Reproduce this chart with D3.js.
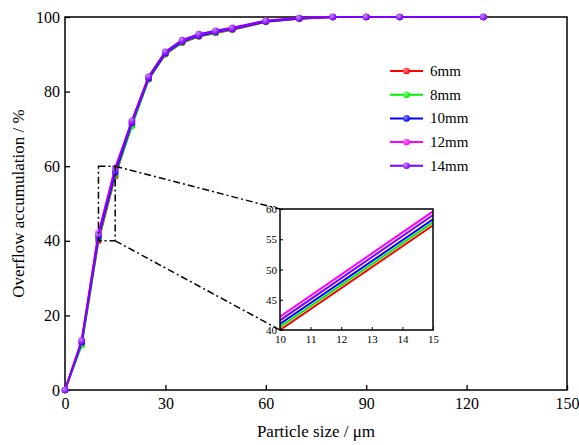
<!DOCTYPE html>
<html lang="en">
<head>
<meta charset="utf-8">
<title>Overflow accumulation</title>
<script src="https://cdnjs.cloudflare.com/ajax/libs/d3/7.0.0/d3.min.js"></script>
<style>
  body { margin: 0; background: #fff; }
  text { font-family: "Liberation Serif", "Times New Roman", serif; fill: #000; }
</style>
</head>
<body>
<script>
// particle sizes (um) and overflow accumulation (%) per series
const sizes = [0, 5, 10, 15, 20, 25, 30, 35, 40, 45, 50, 60, 70, 80, 90, 100, 125];
const s6mm  = [0, 12.5, 40.0, 57.3, 71.2, 83.3, 90.0, 93.1, 94.8, 95.7, 96.6, 98.7, 99.5, 100, 100, 100, 100];
const s8mm  = [0, 12.0, 40.5, 57.8, 70.8, 83.4, 90.1, 93.2, 94.9, 95.8, 96.7, 98.8, 99.5, 100, 100, 100, 100];
const s10mm = [0, 12.8, 41.0, 58.3, 71.6, 83.6, 90.3, 93.4, 95.0, 96.0, 96.8, 98.8, 99.6, 100, 100, 100, 100];
const s12mm = [0, 13.3, 42.2, 59.6, 72.0, 84.0, 90.6, 93.7, 95.3, 96.2, 97.0, 99.0, 99.7, 100, 100, 100, 100];
const s14mm = [0, 13.2, 41.6, 59.0, 72.2, 84.0, 90.7, 93.8, 95.4, 96.3, 97.1, 99.0, 99.7, 100, 100, 100, 100];

const seriesNames = ["6mm", "8mm", "10mm", "12mm", "14mm"];
const seriesVals = [s6mm, s8mm, s10mm, s12mm, s14mm];
const colors = ["#ff0000", "#00ee00", "#0000ff", "#ff00ff", "#8000ff"];

const xTicks = [0, 30, 60, 90, 120, 150];
const yTicks = [0, 20, 40, 60, 80, 100];
const insetXTicks = [10, 11, 12, 13, 14, 15];
const insetYTicks = [40, 45, 50, 55, 60];

var w = 579, h = 445;
var mLeft = 65, mTop = 17, mRight = 567, mBottom = 390;

var svg = d3.select("body").append("svg")
  .attr("width", w).attr("height", h);

var x = d3.scaleLinear().domain([0, 150]).range([mLeft, mRight]);
var y = d3.scaleLinear().domain([0, 100]).range([mBottom, mTop]);

// gradients for the ball markers
var defs = svg.append("defs");
colors.forEach(function(c, i) {
  var g = defs.append("radialGradient").attr("id", "ball" + i)
    .attr("cx", "35%").attr("cy", "35%").attr("r", "65%");
  g.append("stop").attr("offset", "0%").attr("stop-color", d3.interpolateRgb(c, "#fff")(0.55));
  g.append("stop").attr("offset", "100%").attr("stop-color", c);
});

// axes (ticks pointing inward)
svg.append("g").attr("transform", "translate(0," + mBottom + ")")
  .call(d3.axisBottom(x).tickValues(xTicks).tickSizeInner(-5).tickSizeOuter(0).tickPadding(8))
  .call(function(g) {
    g.select(".domain").remove();
    g.selectAll("line").attr("stroke-width", 1.3);
    g.selectAll("text").style("font-size", "16px").style("font-family", "Liberation Serif");
  });
svg.append("g").attr("transform", "translate(" + mLeft + ",0)")
  .call(d3.axisLeft(y).tickValues(yTicks).tickSizeInner(-5).tickSizeOuter(0).tickPadding(5))
  .call(function(g) {
    g.select(".domain").remove();
    g.selectAll("line").attr("stroke-width", 1.3);
    g.selectAll("text").style("font-size", "16px").style("font-family", "Liberation Serif");
  });
svg.append("rect").attr("x", mLeft).attr("y", mTop)
  .attr("width", mRight - mLeft).attr("height", mBottom - mTop)
  .attr("fill", "none").attr("stroke", "#000").attr("stroke-width", 1.5);

svg.append("text").attr("x", (mLeft + mRight) / 2).attr("y", 437)
  .attr("text-anchor", "middle").style("font-size", "17px").text("Particle size / \u03bcm");
svg.append("text").attr("transform", "translate(24," + (mTop + mBottom) / 2 + ") rotate(-90)")
  .attr("text-anchor", "middle").style("font-size", "17px").text("Overflow accumulation / %");

// series lines and markers
var line = d3.line().x(function(d) { return x(d[0]); }).y(function(d) { return y(d[1]); });
seriesVals.forEach(function(vals, i) {
  var pts = sizes.map(function(s, j) { return [s, vals[j]]; });
  svg.append("path").datum(pts).attr("d", line)
    .attr("fill", "none").attr("stroke", colors[i]).attr("stroke-width", 2);
  svg.append("g").selectAll("circle").data(pts).enter().append("circle")
    .attr("cx", function(d) { return x(d[0]); })
    .attr("cy", function(d) { return y(d[1]); })
    .attr("r", 3.3).attr("fill", "url(#ball" + i + ")");
});

// zoom box and connector lines
var dashDot = "7,3,2,3";
svg.append("rect").attr("x", x(10)).attr("y", y(60))
  .attr("width", x(15) - x(10)).attr("height", y(40) - y(60))
  .attr("fill", "none").attr("stroke", "#000").attr("stroke-width", 1.5)
  .attr("stroke-dasharray", dashDot);

// inset
var ix = d3.scaleLinear().domain([10, 15]).range([280, 433]);
var iy = d3.scaleLinear().domain([40, 60]).range([330, 209]);

svg.append("line").attr("x1", x(15)).attr("y1", y(60)).attr("x2", ix(10)).attr("y2", iy(60))
  .attr("stroke", "#000").attr("stroke-width", 1.5).attr("stroke-dasharray", dashDot);
svg.append("line").attr("x1", x(15)).attr("y1", y(40)).attr("x2", ix(10)).attr("y2", iy(40))
  .attr("stroke", "#000").attr("stroke-width", 1.5).attr("stroke-dasharray", dashDot);

var inset = svg.append("g");
inset.append("rect").attr("x", 280).attr("y", 209).attr("width", 153).attr("height", 121)
  .attr("fill", "#fff");
inset.append("clipPath").attr("id", "iclip").append("rect")
  .attr("x", 280).attr("y", 209).attr("width", 153).attr("height", 121);
var iline = d3.line().x(function(d) { return ix(d[0]); }).y(function(d) { return iy(d[1]); });
var lg = inset.append("g").attr("clip-path", "url(#iclip)");
seriesVals.forEach(function(vals, i) {
  var pts = sizes.map(function(s, j) { return [s, vals[j]]; });
  lg.append("path").datum(pts).attr("d", iline)
    .attr("fill", "none").attr("stroke", colors[i]).attr("stroke-width", 2);
});
inset.append("g").attr("transform", "translate(0,330)")
  .call(d3.axisBottom(ix).tickValues(insetXTicks).tickFormat(d3.format("d"))
    .tickSizeInner(-3).tickSizeOuter(0).tickPadding(5))
  .call(function(g) {
    g.select(".domain").remove();
    g.selectAll("text").style("font-size", "11px").style("font-family", "Liberation Serif");
  });
inset.append("g").attr("transform", "translate(280,0)")
  .call(d3.axisLeft(iy).tickValues(insetYTicks).tickFormat(d3.format("d"))
    .tickSizeInner(-3).tickSizeOuter(0).tickPadding(3))
  .call(function(g) {
    g.select(".domain").remove();
    g.selectAll("text").style("font-size", "11px").style("font-family", "Liberation Serif");
  });
inset.append("rect").attr("x", 280).attr("y", 209).attr("width", 153).attr("height", 121)
  .attr("fill", "none").attr("stroke", "#000").attr("stroke-width", 1.5);

// legend
var legend = svg.append("g");
seriesNames.forEach(function(name, i) {
  var ly = 71 + i * 23.7;
  legend.append("line").attr("x1", 390).attr("x2", 423).attr("y1", ly).attr("y2", ly)
    .attr("stroke", colors[i]).attr("stroke-width", 2);
  legend.append("circle").attr("cx", 406.5).attr("cy", ly).attr("r", 3.3)
    .attr("fill", "url(#ball" + i + ")");
  legend.append("text").attr("x", 430).attr("y", ly + 5).style("font-size", "15px").text(name);
});
</script>
</body>
</html>
